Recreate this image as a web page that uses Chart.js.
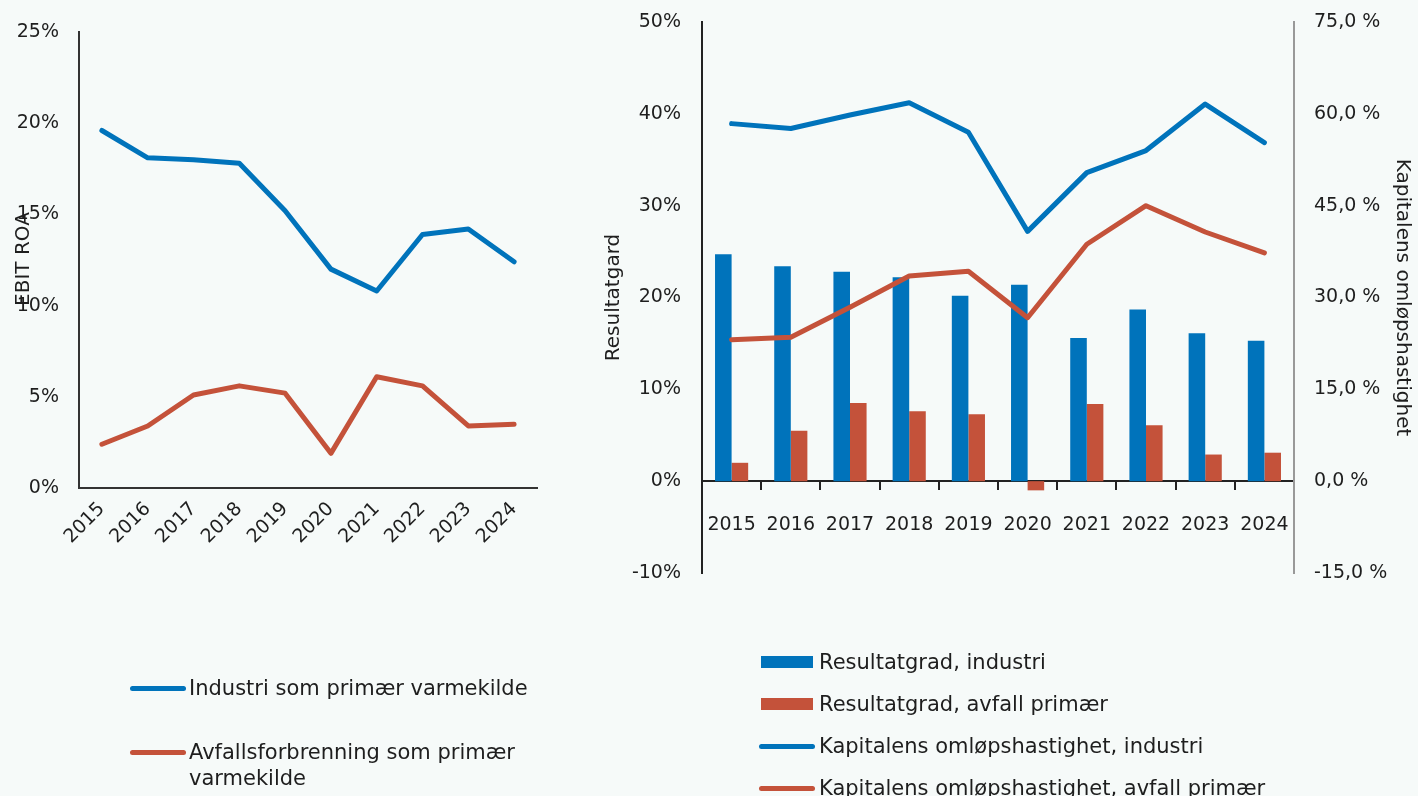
<!DOCTYPE html>
<html>
<head>
<meta charset="utf-8">
<script src="https://cdn.jsdelivr.net/npm/chart.js@4.4.1/dist/chart.umd.min.js"></script>
<style>
    html, body { margin: 0; padding: 0; background: #f6faf9; }
    body { width: 1418px; height: 796px; position: relative; overflow: hidden; font-family: 'DejaVu Sans', sans-serif; color: #1e1e1e; }
    .box { position: absolute; }
    #left-box { left: 0; top: 0; width: 560px; height: 570px; }
    #right-box { left: 598px; top: 0; width: 820px; height: 600px; }
    #ebit-title { position: absolute; left: 22px; top: 259px; font-size: 20px; transform: translate(-50%, -50%) rotate(-90deg); white-space: nowrap; }
    .legend { position: absolute; left: 0; top: 0; width: 1418px; height: 796px; font-size: 21px; line-height: 26px; }
    .legend .sym { position: absolute; }
    .legend .txt { position: absolute; white-space: nowrap; }
</style>
</head>
<body>
<div class="box" id="left-box"><canvas id="roaChart"></canvas></div>
<div class="box" id="right-box"><canvas id="marginChart"></canvas></div>
<div id="ebit-title"></div>
<div class="legend" id="left-legend"></div>
<div class="legend" id="right-legend"></div>

<script>
const years = ['2015', '2016', '2017', '2018', '2019', '2020', '2021', '2022', '2023', '2024'];

// venstre: EBIT ROA (%)
const roaIndustri = [19.6, 18.1, 18.0, 17.8, 15.2, 12.0, 10.8, 13.9, 14.2, 12.4];
const roaAvfall = [2.4, 3.4, 5.1, 5.6, 5.2, 1.9, 6.1, 5.6, 3.4, 3.5];

// høyre: resultatgrad (%) og kapitalens omløpshastighet (%)
const resultatIndustri = [24.7, 23.4, 22.8, 22.2, 20.2, 21.4, 15.6, 18.7, 16.1, 15.3];
const resultatAvfall = [2.0, 5.5, 8.5, 7.6, 7.3, -1.0, 8.4, 6.1, 2.9, 3.1];
const omlopIndustri = [58.4, 57.6, 59.8, 61.8, 57.0, 40.8, 50.4, 54.0, 61.6, 55.3];
const omlopAvfall = [23.1, 23.5, 28.4, 33.5, 34.3, 26.7, 38.7, 45.0, 40.7, 37.3];

const leftLabels = ['Industri som primær varmekilde', 'Avfallsforbrenning som primær<br>varmekilde'];
const rightLabels = ['Resultatgrad, industri', 'Resultatgrad, avfall primær', 'Kapitalens omløpshastighet, industri', 'Kapitalens omløpshastighet, avfall primær'];

const BLUE = '#0073bb';
const RED = '#c4523a';
const TEXT = '#1e1e1e';
const FONT = "'DejaVu Sans', sans-serif";

Chart.defaults.font.family = FONT;
Chart.defaults.font.size = 19;
Chart.defaults.color = TEXT;

document.getElementById('ebit-title').textContent = 'EBIT ROA';

new Chart(document.getElementById('roaChart'), {
    type: 'line',
    data: {
        labels: years,
        datasets: [
            { label: 'Industri som primær varmekilde', data: roaIndustri, borderColor: BLUE, backgroundColor: BLUE },
            { label: 'Avfallsforbrenning som primær varmekilde', data: roaAvfall, borderColor: RED, backgroundColor: RED }
        ]
    },
    options: {
        responsive: true,
        maintainAspectRatio: false,
        animation: false,
        layout: { padding: { top: 32, right: 23, left: 0, bottom: 0 } },
        elements: {
            line: { borderWidth: 5, tension: 0, borderJoinStyle: 'round', borderCapStyle: 'round' },
            point: { radius: 0 }
        },
        plugins: { legend: { display: false }, tooltip: { enabled: false } },
        scales: {
            x: {
                offset: true,
                grid: { display: false, drawTicks: false },
                border: { display: true, color: '#333', width: 2 },
                ticks: { minRotation: 45, maxRotation: 45, padding: 10 },
                afterFit: s => { s.height = 82; }
            },
            y: {
                min: 0, max: 25,
                grid: { display: false, drawTicks: false },
                border: { display: true, color: '#333', width: 2 },
                ticks: { stepSize: 5, padding: 20, callback: v => v + '%' },
                afterFit: s => { s.width = 79; s.paddingTop = 0; s.paddingBottom = 0; }
            }
        }
    }
});

new Chart(document.getElementById('marginChart'), {
    data: {
        labels: years,
        datasets: [
            { type: 'line', label: rightLabels[2], data: omlopIndustri, yAxisID: 'y1', borderColor: BLUE, backgroundColor: BLUE, order: 0 },
            { type: 'line', label: rightLabels[3], data: omlopAvfall, yAxisID: 'y1', borderColor: RED, backgroundColor: RED, order: 0 },
            { type: 'bar', label: rightLabels[0], data: resultatIndustri, yAxisID: 'y', backgroundColor: BLUE, order: 1 },
            { type: 'bar', label: rightLabels[1], data: resultatAvfall, yAxisID: 'y', backgroundColor: RED, order: 1 }
        ]
    },
    options: {
        responsive: true,
        maintainAspectRatio: false,
        animation: false,
        layout: { padding: { top: 22, bottom: 27, left: 0, right: 0 } },
        datasets: { bar: { categoryPercentage: 0.56, barPercentage: 1.0 } },
        elements: {
            line: { borderWidth: 5, tension: 0, borderJoinStyle: 'round', borderCapStyle: 'round' },
            point: { radius: 0 }
        },
        plugins: { legend: { display: false }, tooltip: { enabled: false } },
        scales: {
            x: {
                position: { y: 0 },
                offset: true,
                grid: { display: true, drawOnChartArea: false, drawTicks: true, tickLength: 8, color: '#222', lineWidth: 2, offset: true },
                border: { display: true, color: '#222', width: 2 },
                ticks: { padding: 24, maxRotation: 0, autoSkip: false }
            },
            y: {
                position: 'left',
                min: -10, max: 50,
                grid: { display: false, drawTicks: false },
                border: { display: true, color: '#222', width: 2 },
                ticks: { stepSize: 10, padding: 21, callback: v => v + '%' },
                title: { display: true, text: 'Resultatgard', font: { size: 20 } },
                afterFit: s => { s.width = 104; s.paddingTop = 0; s.paddingBottom = 0; }
            },
            y1: {
                position: 'right',
                min: -15, max: 75,
                grid: { display: false, drawTicks: false },
                border: { display: true, color: '#999', width: 2 },
                ticks: { stepSize: 15, padding: 20, callback: v => v.toFixed(1).replace('.', ',') + ' %' },
                title: { display: true, text: 'Kapitalens omløpshastighet', font: { size: 20 }, padding: { top: 4, bottom: 0 } },
                afterFit: s => { s.width = 124; s.paddingTop = 0; s.paddingBottom = 0; }
            }
        }
    }
});

function buildLegend(el, items) {
    items.forEach(it => {
        const sym = document.createElement('div');
        sym.className = 'sym';
        sym.style.left = it.sx + 'px';
        sym.style.top = (it.y - it.h / 2) + 'px';
        sym.style.width = it.w + 'px';
        sym.style.height = it.h + 'px';
        sym.style.background = it.color;
        if (it.round) sym.style.borderRadius = '3px';
        el.appendChild(sym);

        const txt = document.createElement('div');
        txt.className = 'txt';
        txt.style.left = it.tx + 'px';
        txt.style.top = (it.y - 13) + 'px';
        txt.innerHTML = it.text;
        el.appendChild(txt);
    });
}

buildLegend(document.getElementById('left-legend'), [
    { text: leftLabels[0], color: BLUE, sx: 130, w: 56, h: 5, round: true, tx: 189, y: 688 },
    { text: leftLabels[1], color: RED, sx: 130, w: 56, h: 5, round: true, tx: 189, y: 752 }
]);

buildLegend(document.getElementById('right-legend'), [
    { text: rightLabels[0], color: BLUE, sx: 761, w: 52, h: 12, round: false, tx: 819, y: 662 },
    { text: rightLabels[1], color: RED, sx: 761, w: 52, h: 12, round: false, tx: 819, y: 704 },
    { text: rightLabels[2], color: BLUE, sx: 759, w: 56, h: 5, round: true, tx: 819, y: 746 },
    { text: rightLabels[3], color: RED, sx: 759, w: 56, h: 5, round: true, tx: 819, y: 788 }
]);
</script>
</body>
</html>
